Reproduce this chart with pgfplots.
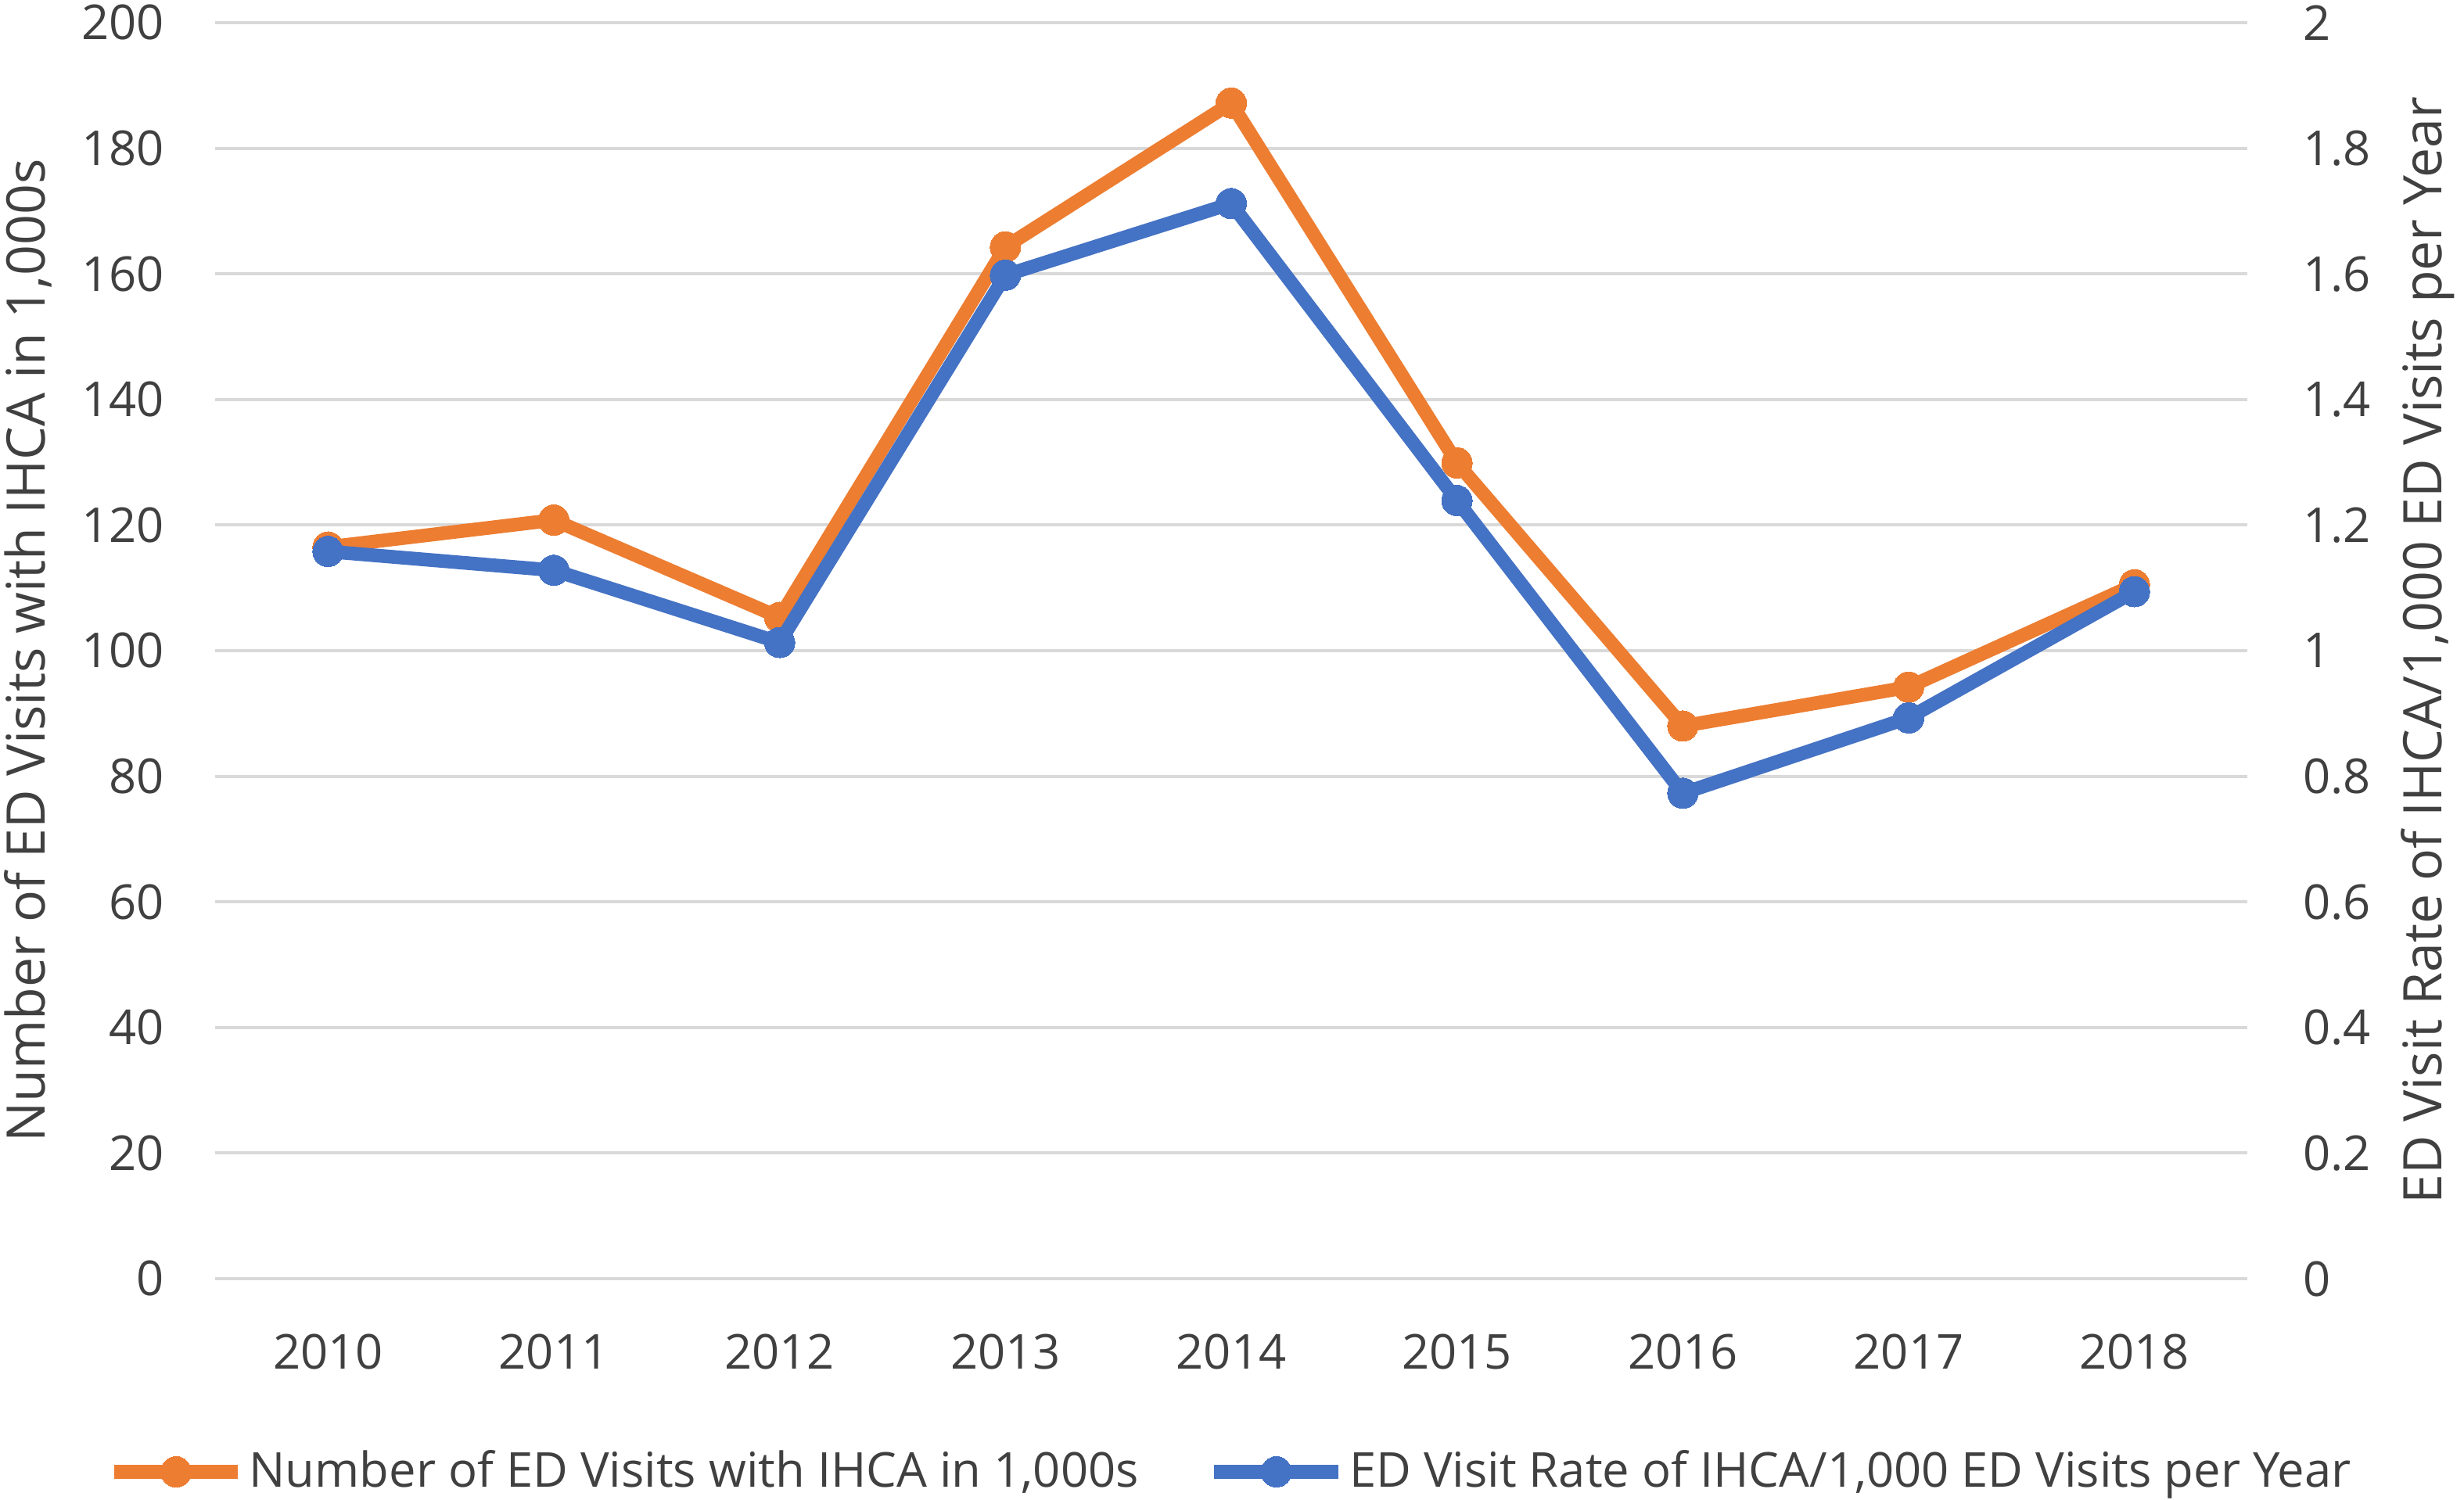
\documentclass[border=0pt]{standalone}
\usepackage{pgfplots}
\pgfplotsset{compat=1.18}
\usepackage{fontspec}
\setmainfont{Open Sans}
\definecolor{cOrange}{HTML}{ED7D31}
\definecolor{cBlue}{HTML}{4472C4}
\definecolor{cGrid}{HTML}{D9D9D9}
\definecolor{cText}{HTML}{404040}
\newcommand{\tickfont}{\fontsize{12.3bp}{14bp}\selectfont}
\newcommand{\labfont}{\fontsize{13.6bp}{16bp}\selectfont}
\begin{document}
\begin{tikzpicture}
\path[use as bounding box] (-55bp,-56.6bp) rectangle (575bp,327bp);
\begin{axis}[
  at={(0,0)}, anchor=south west,
  scale only axis, width=519.6bp, height=321.2bp,
  xmin=-0.5, xmax=8.5, ymin=0, ymax=200,
  xtick={0,1,2,3,4,5,6,7,8},
  xticklabels={2010,2011,2012,2013,2014,2015,2016,2017,2018},
  ytick={0,20,40,60,80,100,120,140,160,180,200},
  axis line style={draw=none},
  major tick length=0pt,
  ymajorgrids, grid style={cGrid, line width=0.8bp},
  tick label style={font=\tickfont, text=cText},
  xticklabel style={anchor=base, yshift=-23bp},
  yticklabel style={anchor=east, inner sep=0pt, xshift=-12.8bp},
  /pgf/number format/assume math mode=true,
  ylabel={Number of ED Visits with IHCA in 1,000s},
  ylabel style={font=\labfont, text=cText, at={(axis description cs:-0.092,0.5)}, anchor=center},
  clip=false,
]
\addplot[cOrange, line width=3.5bp, line join=round, mark=*, mark size=3.9bp,
  mark options={fill=cOrange, draw=cOrange, line width=0pt}]
  coordinates {(0,116.5) (1,120.8) (2,105.3) (3,164.3) (4,187.2) (5,129.9) (6,88.0) (7,94.2) (8,110.5)};
\end{axis}
\begin{axis}[
  at={(0,0)}, anchor=south west,
  scale only axis, width=519.6bp, height=321.2bp,
  xmin=-0.5, xmax=8.5, ymin=0, ymax=2,
  axis x line=none, axis y line*=right,
  axis line style={draw=none},
  major tick length=0pt,
  ytick={0,0.2,0.4,0.6,0.8,1,1.2,1.4,1.6,1.8,2},
  tick label style={font=\tickfont, text=cText},
  yticklabel style={anchor=west, inner sep=0pt, xshift=14bp},
  /pgf/number format/assume math mode=true,
  ylabel={ED Visit Rate of IHCA/1,000 ED Visits per Year},
  ylabel style={font=\labfont, text=cText, at={(axis description cs:1.0889,0.5)}, anchor=center, rotate=0},
  clip=false,
  legend columns=2,
  legend style={at={(axis description cs:0.5,-0.1538)}, anchor=center, draw=none, fill=none,
    font=\tickfont, text=cText, inner sep=0pt,
    nodes={inner xsep=1.1bp},
    /tikz/every even column/.append style={column sep=16.5bp}},
  legend cell align=left,
  legend image code/.code={\draw[#1, mark repeat=2, mark phase=2] plot coordinates {(0bp,0bp) (15.85bp,0bp) (31.7bp,0bp)};},
]
\addlegendimage{cOrange, line width=3.5bp, mark=*, mark size=3.9bp, mark options={fill=cOrange, draw=cOrange, line width=0pt}}
\addlegendentry{Number of ED Visits with IHCA in 1,000s}
\addplot[cBlue, line width=3.5bp, line join=round, mark=*, mark size=3.9bp,
  mark options={fill=cBlue, draw=cBlue, line width=0pt}]
  coordinates {(0,1.158) (1,1.128) (2,1.013) (3,1.598) (4,1.712) (5,1.239) (6,0.773) (7,0.893) (8,1.094)};
\addlegendentry{ED Visit Rate of IHCA/1,000 ED Visits per Year}
\end{axis}
\end{tikzpicture}
\end{document}
